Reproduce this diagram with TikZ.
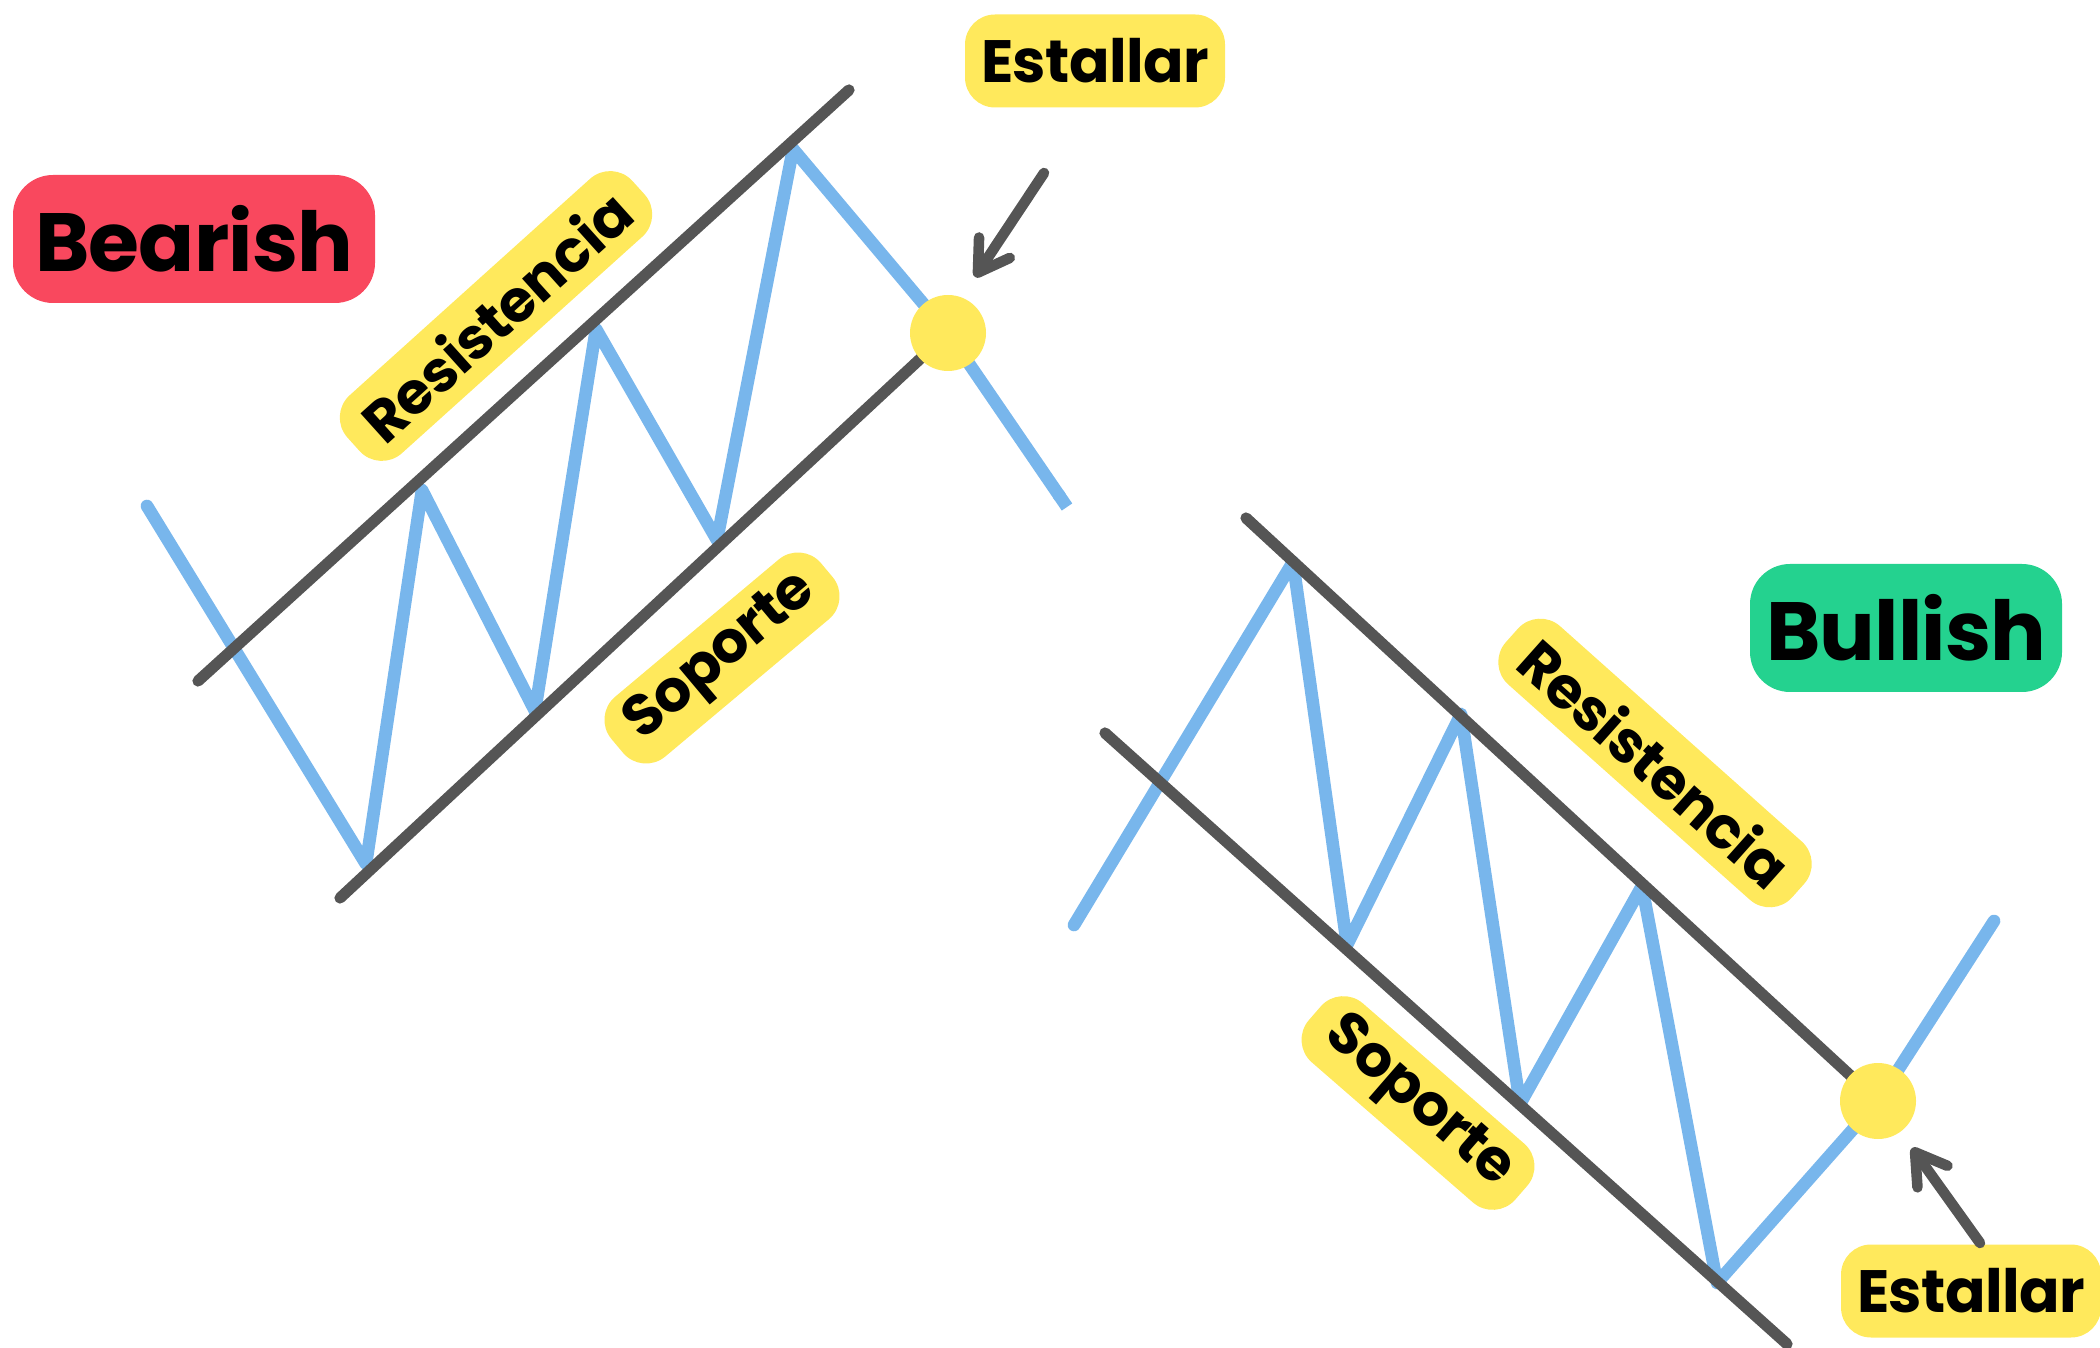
\documentclass[tikz,border=0pt]{standalone}
\usepackage{fontspec}
\setmainfont{Poppins}[BoldFeatures={LetterSpace=-1}]
\usetikzlibrary{arrows.meta}
\definecolor{chartblue}{RGB}{120,182,236}
\definecolor{linegray}{RGB}{85,85,85}
\definecolor{tagyellow}{RGB}{255,233,92}
\definecolor{bearred}{RGB}{249,72,94}
\definecolor{bullgreen}{RGB}{36,210,143}

\begin{document}
\begin{tikzpicture}[x=0.1mm, y=-0.1mm,
		price/.style={chartblue, line width=3.6pt, line join=round, line cap=round},
		trend/.style={linegray, line width=3.2pt, line cap=round},
		tag/.style={fill=tagyellow, rounded corners=3mm, font=\bfseries\fontsize{16.5}{16.5}\selectfont, minimum height=7.8mm, inner xsep=2.2mm, inner ysep=0pt},
		title/.style={rounded corners=4mm, font=\bfseries\fontsize{23.5}{23.5}\selectfont, minimum height=12.8mm},
		burst/.style={fill=tagyellow, rounded corners=3mm, font=\bfseries\fontsize{17}{17}\selectfont, minimum width=26mm, minimum height=9.3mm},
		hint/.style={linegray, line width=3pt, line cap=round, -{Straight Barb[length=8.5pt,width=10.5pt,round]}},
		breakdot/.style={circle, fill=tagyellow, minimum size=7.6mm, inner sep=0pt}]
	\useasboundingbox (0,0) rectangle (2100,1348);
	% Bearish
	\node[title, fill=bearred, minimum width=36.2mm] (bearTitle) at (194,239) {Bearish};
	\coordinate (breakBear) at (948,333);
	\draw[price, -{Butt Cap}] (147,506) -- (366,864) -- (422,490) -- (535,711) -- (596,329) -- (717,540) -- (793,149) -- (breakBear) -- (1067,507);
	\coordinate (resBearA) at (198,681);
	\coordinate (resBearB) at (849,90);
	\coordinate (supBearA) at (340,898);
	\draw[trend] (resBearA) -- (resBearB);
	\draw[trend] (supBearA) -- (breakBear);
	\node[tag, rotate=42] (resBearTag) at (496,316) {Resistencia};
	\node[tag, rotate=40] (supBearTag) at (722,658) {Soporte};
	\node[breakdot] (dotBear) at (breakBear) {};
	\node[burst] (burstTop) at (1095,61) {Estallar};
	\coordinate (hintTopTail) at (1044,173);
	\coordinate (hintTopTip) at (975,277);
	\draw[hint] (hintTopTail) -- (hintTopTip);
	% Bullish
	\node[title, fill=bullgreen, minimum width=31.2mm] (bullTitle) at (1906,628) {Bullish};
	\coordinate (breakBull) at (1878,1101);
	\draw[price] (1074,925) -- (1293,562) -- (1347,945) -- (1461,714) -- (1520,1104) -- (1642,886) -- (1717,1283) -- (breakBull) -- (1994,921);
	\coordinate (resBullA) at (1246,518);
	\coordinate (supBullA) at (1105,733);
	\coordinate (supBullB) at (1787,1344);
	\draw[trend] (resBullA) -- (breakBull);
	\draw[trend] (supBullA) -- (supBullB);
	\node[tag, rotate=-41.7] (resBullTag) at (1655,763) {Resistencia};
	\node[tag, rotate=-41] (supBullTag) at (1418,1103) {Soporte};
	\node[breakdot] (dotBull) at (breakBull) {};
	\node[burst] (burstBottom) at (1971,1291) {Estallar};
	\coordinate (hintBotTail) at (1980,1243);
	\coordinate (hintBotTip) at (1912,1148);
	\draw[hint] (hintBotTail) -- (hintBotTip);
\end{tikzpicture}
\end{document}
